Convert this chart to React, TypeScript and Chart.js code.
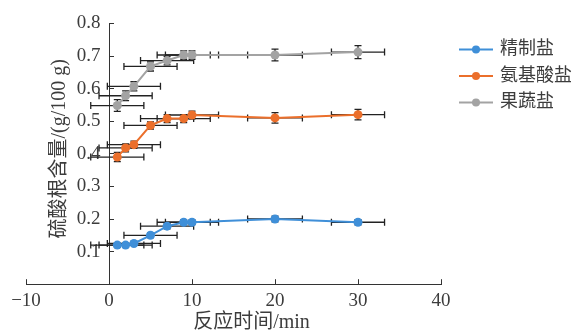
import React, { useEffect, useRef } from 'react';
import { Chart, registerables } from 'chart.js';

Chart.register(...registerables);

// ---- data ----
const TIMES = [1, 2, 3, 5, 7, 9, 10, 20, 30];
const TIME_ERR = [3.2, 3.2, 3.2, 3.2, 3.2, 3.2, 3.2, 3.3, 3.2];
const SERIES_NAMES = ['精制盐', '氨基酸盐', '果蔬盐'];
const REFINED = [0.12, 0.12, 0.125, 0.15, 0.178, 0.19, 0.19, 0.2, 0.19];
const REFINED_ERR = [0.006, 0.006, 0.006, 0.007, 0.008, 0.007, 0.007, 0.009, 0.008];
const AMINO = [0.39, 0.418, 0.428, 0.487, 0.508, 0.508, 0.519, 0.51, 0.52];
const AMINO_ERR = [0.014, 0.012, 0.011, 0.011, 0.012, 0.012, 0.012, 0.016, 0.016];
const FRUIT = [0.548, 0.578, 0.607, 0.668, 0.686, 0.703, 0.703, 0.703, 0.712];
const FRUIT_ERR = [0.018, 0.015, 0.014, 0.014, 0.013, 0.013, 0.013, 0.018, 0.02];
const SERIES_COLORS = ['#3f8fd8', '#eb6f2b', '#a3a3a3'];
const X_TICKS = [-10, 0, 10, 20, 30, 40];
const Y_TICKS = [0, 0.1, 0.2, 0.3, 0.4, 0.5, 0.6, 0.7, 0.8];
const X_TITLE = '反应时间/min';
const Y_TITLE = '硫酸根含量/(g/100 g)';

const SERIF = "'Liberation Serif', 'Noto Sans CJK SC', serif";
const TEXT_COLOR = '#3c3c3c';
const AXIS_COLOR = '#333333';

const errorBarPlugin = {
  id: 'errorBars',
  beforeDatasetsDraw(chart: any) {
    const { ctx } = chart;
    const xs = chart.scales.x;
    const ys = chart.scales.y;
    ctx.save();
    ctx.strokeStyle = '#222222';
    ctx.lineWidth = 1.3;
    const cap = 3.5;
    chart.data.datasets.forEach((ds: any) => {
      ds.data.forEach((p: any, j: number) => {
        const x = xs.getPixelForValue(p.x);
        const y = ys.getPixelForValue(p.y);
        const xl = xs.getPixelForValue(p.x - ds.xErr[j]);
        const xr = xs.getPixelForValue(p.x + ds.xErr[j]);
        const yt = ys.getPixelForValue(p.y + ds.yErr[j]);
        const yb = ys.getPixelForValue(p.y - ds.yErr[j]);
        ctx.beginPath();
        ctx.moveTo(xl, y); ctx.lineTo(xr, y);
        ctx.moveTo(xl, y - cap); ctx.lineTo(xl, y + cap);
        ctx.moveTo(xr, y - cap); ctx.lineTo(xr, y + cap);
        ctx.moveTo(x, yt); ctx.lineTo(x, yb);
        ctx.moveTo(x - cap, yt); ctx.lineTo(x + cap, yt);
        ctx.moveTo(x - cap, yb); ctx.lineTo(x + cap, yb);
        ctx.stroke();
      });
    });
    ctx.restore();
  },
};

const titlesAndLegendPlugin = {
  id: 'titlesLegend',
  afterDraw(chart: any) {
    const { ctx, chartArea } = chart;
    const xs = chart.scales.x;
    ctx.save();
    ctx.fillStyle = TEXT_COLOR;
    ctx.font = `20px ${SERIF}`;
    ctx.textAlign = 'center';
    ctx.textBaseline = 'middle';
    // x title
    ctx.fillText(X_TITLE, (chartArea.left + chartArea.right) / 2 + 18, chartArea.bottom + 39);
    // y title
    ctx.save();
    ctx.translate(xs.getPixelForValue(0) - 49, (chartArea.top + chartArea.bottom) / 2 - 5);
    ctx.rotate(-Math.PI / 2);
    ctx.fillText(Y_TITLE, 0, 0);
    ctx.restore();
    // legend
    ctx.font = `18px ${SERIF}`;
    ctx.textAlign = 'left';
    chart.data.datasets.forEach((ds: any, i: number) => {
      const y = chartArea.top + 26 + i * 26.5;
      const x0 = chartArea.right + 18;
      ctx.strokeStyle = ds.borderColor;
      ctx.lineWidth = 2;
      ctx.beginPath();
      ctx.moveTo(x0, y);
      ctx.lineTo(x0 + 34, y);
      ctx.stroke();
      ctx.fillStyle = ds.pointBackgroundColor;
      ctx.beginPath();
      ctx.arc(x0 + 17, y, 4, 0, Math.PI * 2);
      ctx.fill();
      ctx.fillStyle = TEXT_COLOR;
      ctx.fillText(ds.label, x0 + 41, y);
    });
    ctx.restore();
  },
};

export default function App() {
  const ref = useRef<HTMLCanvasElement>(null);
  useEffect(() => {
    const values = [REFINED, AMINO, FRUIT];
    const errs = [REFINED_ERR, AMINO_ERR, FRUIT_ERR];
    const datasets = values.map((vals, i) => ({
      label: SERIES_NAMES[i],
      data: TIMES.map((t, j) => ({ x: t, y: vals[j] })),
      xErr: TIME_ERR,
      yErr: errs[i],
      borderColor: SERIES_COLORS[i],
      backgroundColor: SERIES_COLORS[i],
      pointBackgroundColor: SERIES_COLORS[i],
      pointBorderColor: SERIES_COLORS[i],
      pointRadius: 4.5,
      pointBorderWidth: 0,
      borderWidth: 2,
      tension: 0,
    }));
    const chart = new Chart(ref.current as HTMLCanvasElement, {
      type: 'line',
      data: { datasets } as any,
      plugins: [errorBarPlugin, titlesAndLegendPlugin],
      options: {
        responsive: false,
        animation: false,
        layout: { padding: { left: 26, right: 140, top: 20, bottom: 9 } },
        plugins: { legend: { display: false }, tooltip: { enabled: false } },
        scales: {
          x: {
            type: 'linear',
            min: X_TICKS[0],
            max: X_TICKS[X_TICKS.length - 1],
            afterBuildTicks: (scale: any) => {
              scale.ticks = X_TICKS.map((v) => ({ value: v }));
            },
            border: { color: AXIS_COLOR, width: 1 },
            grid: { drawOnChartArea: false, tickLength: -5, color: AXIS_COLOR },
            ticks: {
              padding: 10,
              color: TEXT_COLOR,
              font: { family: SERIF, size: 19 },
              callback: (v: any) => String(v).replace('-', '\u2212'),
            },
          },
          y: {
            type: 'linear',
            min: Y_TICKS[0],
            max: Y_TICKS[Y_TICKS.length - 1],
            position: { x: 0 } as any,
            afterBuildTicks: (scale: any) => {
              scale.ticks = Y_TICKS.map((v) => ({ value: v }));
            },
            border: { color: AXIS_COLOR, width: 1 },
            grid: { drawOnChartArea: false, tickLength: -5, color: AXIS_COLOR },
            ticks: {
              padding: 12,
              color: TEXT_COLOR,
              font: { family: SERIF, size: 19 },
              callback: (v: any) => (Number(v) === 0 ? '' : Number(v).toFixed(1) + ' \u2009'),
            },
          },
        },
      } as any,
    });
    return () => chart.destroy();
  }, []);
  return (
    <div style={{ position: 'absolute', left: 0, top: 0, width: 581, height: 331, background: '#ffffff' }}>
      <canvas ref={ref} width={581} height={331} style={{ display: 'block' }} />
    </div>
  );
}
